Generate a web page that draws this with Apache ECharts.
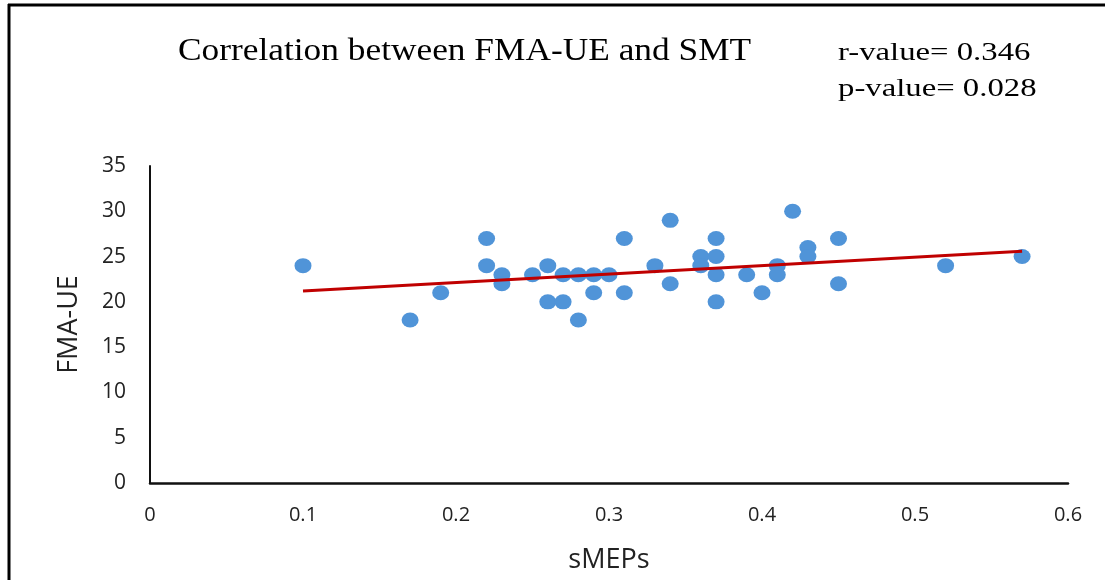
<!DOCTYPE html>
<html>
<head>
<meta charset="utf-8">
<script src="https://cdn.jsdelivr.net/npm/echarts@6/dist/echarts.min.js"></script>
<style>
html, body { margin: 0; padding: 0; background: #fff; }
#main { width: 1105px; height: 580px; }
</style>
</head>
<body>
<div id="main"></div>
<script>
// sMEPs vs FMA-UE
var sMEPs = [0.10, 0.17, 0.19, 0.22, 0.22, 0.23, 0.23, 0.25, 0.26, 0.26,
             0.27, 0.27, 0.28, 0.28, 0.29, 0.29, 0.30, 0.31, 0.31, 0.33,
             0.34, 0.34, 0.36, 0.36, 0.37, 0.37, 0.37, 0.37, 0.39, 0.40,
             0.41, 0.41, 0.42, 0.43, 0.43, 0.45, 0.45, 0.52, 0.57];
var fmaUE = [24, 18, 21, 27, 24, 23, 22, 23, 24, 20,
             23, 20, 23, 18, 23, 21, 23, 27, 21, 24,
             29, 22, 25, 24, 27, 25, 23, 20, 23, 21,
             24, 23, 30, 26, 25, 27, 22, 24, 25];
// trendline end points
var trendX = [0.10, 0.57];
var trendY = [21.2, 25.6];
var xTicks = [0, 0.1, 0.2, 0.3, 0.4, 0.5, 0.6];
var yTicks = [0, 5, 10, 15, 20, 25, 30, 35];

var points = sMEPs.map(function (x, i) { return [x, fmaUE[i]]; });
var trend = trendX.map(function (x, i) { return [x, trendY[i]]; });

var myChart = echarts.init(document.getElementById('main'));
myChart.setOption({
    animation: false,
    backgroundColor: '#fff',
    grid: { left: 150, right: 37, top: 166, bottom: 97 },
    xAxis: {
        type: 'value',
        min: 0, max: 0.6, interval: 0.1,
        name: 'sMEPs',
        nameLocation: 'middle',
        nameGap: 64,
        nameTextStyle: { fontFamily: 'Open Sans', fontSize: 27, color: '#222' },
        axisLine: { lineStyle: { color: '#111', width: 2.5 } },
        axisTick: { show: false },
        splitLine: { show: false },
        axisLabel: {
            margin: 22,
            fontFamily: 'Open Sans', fontSize: 20, color: '#222',
            formatter: function (v) { return xTicks.indexOf(Math.round(v * 10) / 10) >= 0 ? String(Math.round(v * 10) / 10) : ''; }
        }
    },
    yAxis: {
        type: 'value',
        min: 0, max: 35, interval: 5,
        name: 'FMA-UE',
        nameLocation: 'middle',
        nameGap: 67,
        nameRotate: 90,
        nameTextStyle: { fontFamily: 'Open Sans', fontSize: 27, color: '#222' },
        axisLine: { show: true, lineStyle: { color: '#111', width: 2 } },
        axisTick: { show: false },
        splitLine: { show: false },
        axisLabel: {
            margin: 24,
            fontFamily: 'Open Sans', fontSize: 21, color: '#222',
            formatter: function (v) { return yTicks.indexOf(v) >= 0 ? String(v) : ''; }
        }
    },
    series: [
        {
            name: 'FMA-UE',
            type: 'scatter',
            data: points,
            symbol: 'circle',
            symbolSize: [17, 15],
            itemStyle: { color: '#5094D8', opacity: 1 },
            z: 2
        },
        {
            name: 'Trend',
            type: 'line',
            data: trend,
            symbol: 'none',
            lineStyle: { color: '#C00000', width: 3 },
            z: 3
        }
    ],
    graphic: [
        {
            type: 'text', x: 178, y: 67, scaleX: 1.14,
            style: { text: 'Correlation between FMA-UE and SMT', font: '31px "Liberation Serif"', fill: '#000', textVerticalAlign: 'bottom' }
        },
        {
            type: 'text', x: 838, y: 66, scaleX: 1.31,
            style: { text: 'r-value= 0.346', font: '25px "Liberation Serif"', fill: '#000', textVerticalAlign: 'bottom' }
        },
        {
            type: 'text', x: 838, y: 102, scaleX: 1.31,
            style: { text: 'p-value= 0.028', font: '25px "Liberation Serif"', fill: '#000', textVerticalAlign: 'bottom' }
        },
        {
            type: 'line',
            shape: { x1: 8, y1: 5, x2: 1105, y2: 5 },
            style: { stroke: '#000', lineWidth: 3 }
        },
        {
            type: 'line',
            shape: { x1: 9, y1: 4, x2: 9, y2: 580 },
            style: { stroke: '#000', lineWidth: 3 }
        }
    ]
});
</script>
</body>
</html>
